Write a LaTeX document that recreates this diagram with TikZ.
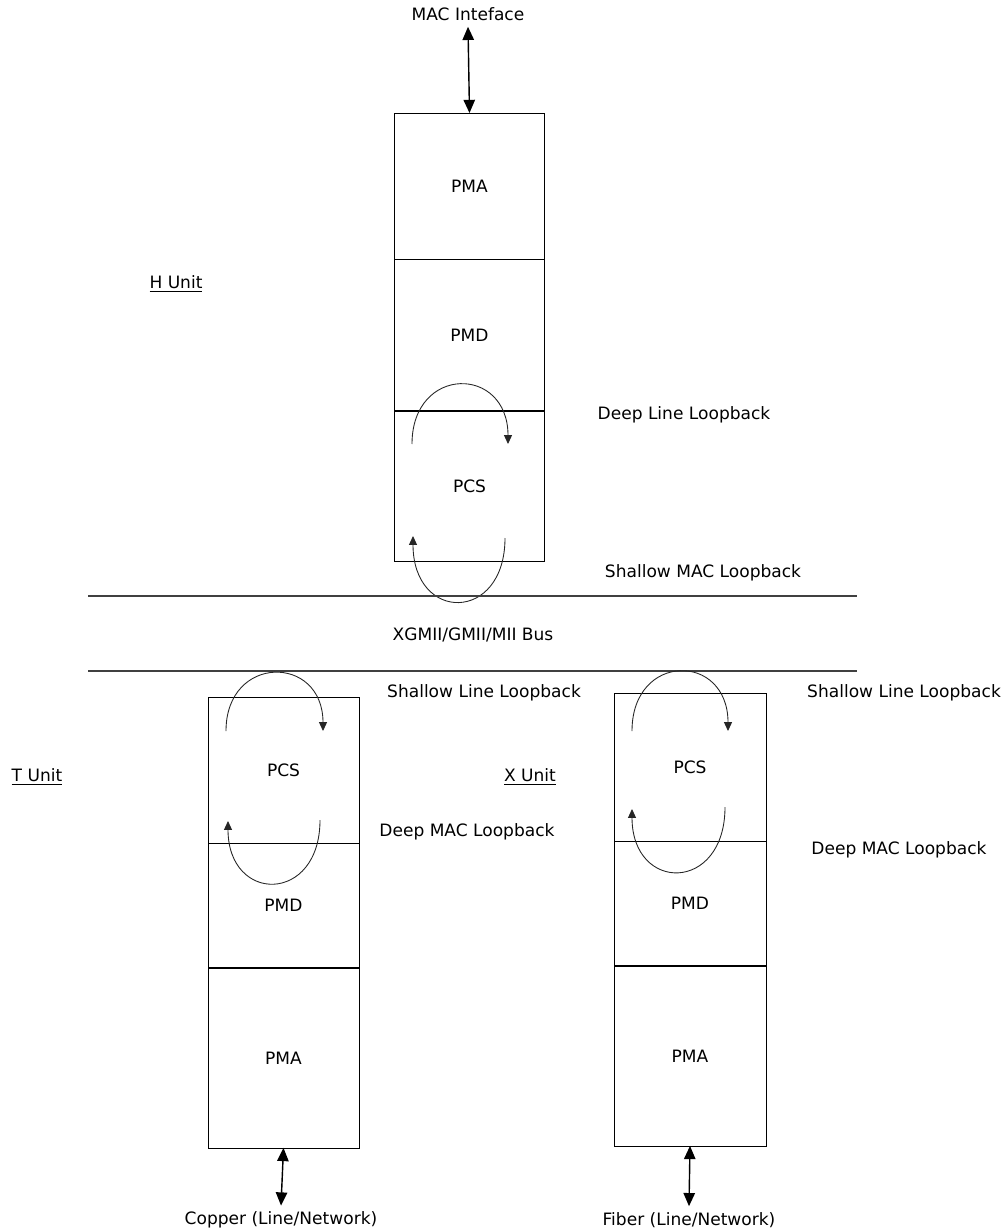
\documentclass[tikz,border=0pt]{standalone}
\usepackage{fontspec}
\setmainfont{DejaVu Sans}
\usetikzlibrary{positioning,arrows.meta}
\begin{document}
\begin{tikzpicture}[x=0.02cm,y=-0.02cm,
    every node/.style={font=\fontsize{9.7}{11}\selectfont},
    layer/.style={draw, line width=0.5pt, inner sep=0pt, outer sep=0pt},
    divider/.style={line width=1.2pt},
    biarrow/.style={line width=0.8pt, {Triangle[length=7.5pt,width=6.5pt]}-{Triangle[length=7.5pt,width=6.5pt]}},
    loop/.style={line width=0.5pt, black!85, -{Triangle[length=5pt,width=4.5pt]}},
    bus/.style={line width=0.6pt, black!75}]
    \useasboundingbox (0,0) rectangle (1006,1230);
    % H unit stack
    \node[layer, minimum width=3cm, minimum height=2.92cm] (hpma) at (469.5,186) {PMA};
    \node[layer, minimum width=3cm, minimum height=3.04cm, below=0pt of hpma] (hpmd) {PMD};
    \node[layer, minimum width=3cm, minimum height=3.02cm, below=0pt of hpmd] (hpcs) {PCS};
    \draw[divider] (hpmd.south west) -- (hpmd.south east);
    \node (mac) at (468,14) {MAC Inteface};
    \draw[biarrow] (mac.south) -- (hpma.north);
    \node (hunit) at (176,284) {\underline{H Unit}};
    % loops of the H unit
    \draw[loop] (412,444) .. controls (412,365) and (508,365) .. (508,444);
    \node (deepline) at (684,415) {Deep Line Loopback};
    \draw[loop] (505,538) .. controls (505,623) and (413,623) .. (413,536);
    \node (shallowmac) at (703,573) {Shallow MAC Loopback};
    % bus
    \coordinate (busa) at (88,596);
    \coordinate (busb) at (857,596);
    \coordinate (busc) at (88,671);
    \coordinate (busd) at (857,671);
    \draw[bus] (busa) -- (busb);
    \draw[bus] (busc) -- (busd);
    \node (xgmii) at (473,635) {XGMII/GMII/MII Bus};
    % T unit stack
    \node[layer, minimum width=3.02cm, minimum height=2.92cm] (tpcs) at (283.5,770) {PCS};
    \node[layer, minimum width=3.02cm, minimum height=2.5cm, below=0pt of tpcs] (tpmd) {PMD};
    \node[layer, minimum width=3.02cm, minimum height=3.6cm, below=0pt of tpmd] (tpma) {PMA};
    \draw[divider] (tpmd.south west) -- (tpmd.south east);
    \node (copper) at (281,1220) {Copper (Line/Network)};
    \draw[biarrow] (tpma.south) -- (copper.north);
    \node (tunit) at (37,777) {\underline{T Unit}};
    \draw[loop] (226,731) .. controls (226,654) and (323,654) .. (323,731);
    \node (tshallow) at (484,693) {Shallow Line Loopback};
    \draw[loop] (320,820) .. controls (320,904) and (228,904) .. (228,821);
    \node (tdeep) at (467,832) {Deep MAC Loopback};
    % X unit stack
    \node[layer, minimum width=3.04cm, minimum height=2.96cm] (xpcs) at (690,767) {PCS};
    \node[layer, minimum width=3.04cm, minimum height=2.5cm, below=0pt of xpcs] (xpmd) {PMD};
    \node[layer, minimum width=3.04cm, minimum height=3.6cm, below=0pt of xpmd] (xpma) {PMA};
    \draw[divider] (xpmd.south west) -- (xpmd.south east);
    \node (fiber) at (689,1220) {Fiber (Line/Network)};
    \draw[biarrow] (xpma.south) -- (fiber.north);
    \node (xunit) at (530,777) {\underline{X Unit}};
    \draw[loop] (632,731) .. controls (632,652) and (728,652) .. (728,731);
    \node (xshallow) at (904,693) {Shallow Line Loopback};
    \draw[loop] (725,807) .. controls (725,893) and (632,893) .. (632,809);
    \node (xdeep) at (899,850) {Deep MAC Loopback};
\end{tikzpicture}
\end{document}
